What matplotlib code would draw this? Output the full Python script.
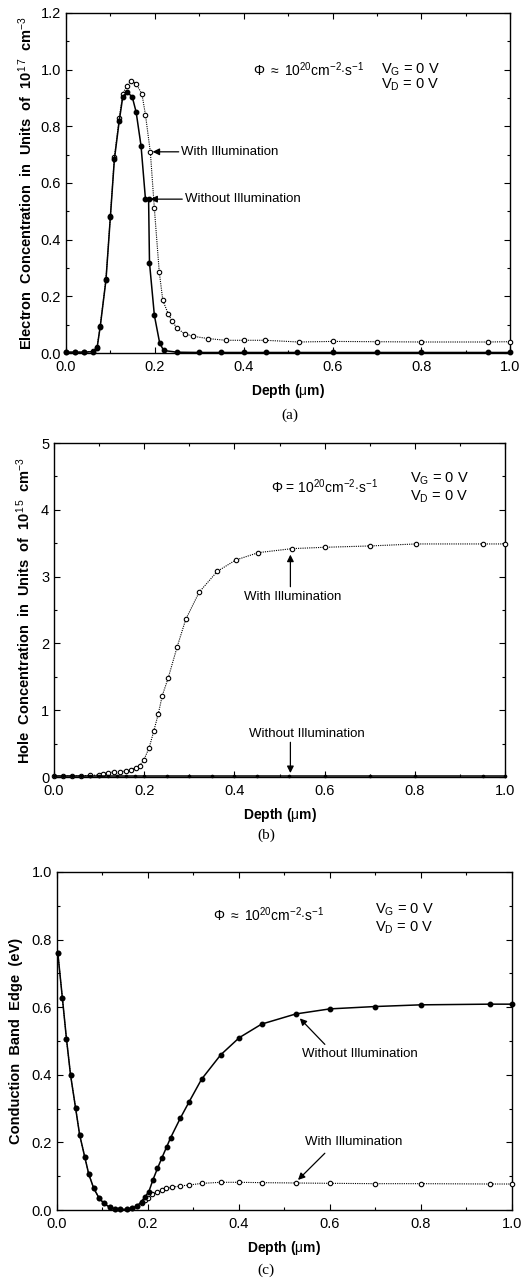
import matplotlib.pyplot as plt
from matplotlib.ticker import MultipleLocator

plt.rcParams['font.family'] = ['Liberation Sans', 'DejaVu Sans']
plt.rcParams['mathtext.fontset'] = 'custom'
plt.rcParams['mathtext.rm'] = 'Liberation Sans'
plt.rcParams['mathtext.it'] = 'Liberation Sans'
plt.rcParams['mathtext.bf'] = 'Liberation Sans:bold'

# (a) electron concentration, units of 1e17 cm^-3
ea_dark_x = [0.0, 0.02, 0.04, 0.06, 0.070, 0.077, 0.090, 0.100, 0.109, 0.120, 0.128, 0.137,
             0.149, 0.158, 0.169, 0.179, 0.186, 0.188, 0.199, 0.211, 0.220, 0.25, 0.30,
             0.35, 0.40, 0.45, 0.52, 0.60, 0.70, 0.80, 0.95, 1.0]
ea_dark_y = [0.003, 0.003, 0.003, 0.005, 0.018, 0.092, 0.257, 0.481, 0.684, 0.82, 0.905, 0.92,
             0.905, 0.85, 0.731, 0.542, 0.543, 0.319, 0.133, 0.035, 0.009, 0.003, 0.002,
             0.002, 0.002, 0.002, 0.002, 0.002, 0.002, 0.002, 0.002, 0.002]
ea_lit_x = [0.0, 0.02, 0.04, 0.06, 0.070, 0.077, 0.090, 0.100, 0.109, 0.120, 0.128, 0.137,
            0.147, 0.158, 0.171, 0.179, 0.190, 0.199, 0.210, 0.218, 0.230, 0.239, 0.250,
            0.267, 0.287, 0.320, 0.360, 0.400, 0.449, 0.524, 0.600, 0.700, 0.800, 0.950, 1.0]
ea_lit_y = [0.004, 0.004, 0.004, 0.006, 0.02, 0.095, 0.26, 0.485, 0.69, 0.83, 0.915, 0.943,
            0.961, 0.95, 0.914, 0.84, 0.708, 0.51, 0.286, 0.186, 0.139, 0.112, 0.088,
            0.068, 0.059, 0.051, 0.045, 0.045, 0.045, 0.039, 0.041, 0.040, 0.039, 0.039, 0.040]

# (b) hole concentration, units of 1e15 cm^-3
hb_lit_x = [0.0, 0.02, 0.04, 0.06, 0.08, 0.10, 0.109, 0.12, 0.133, 0.146, 0.159, 0.170,
            0.181, 0.190, 0.199, 0.211, 0.221, 0.231, 0.240, 0.253, 0.273, 0.292, 0.322,
            0.362, 0.403, 0.453, 0.528, 0.600, 0.700, 0.802, 0.952, 1.0]
hb_lit_y = [0.02, 0.02, 0.02, 0.02, 0.025, 0.03, 0.05, 0.066, 0.076, 0.081, 0.091, 0.11,
            0.137, 0.17, 0.254, 0.44, 0.685, 0.94, 1.22, 1.48, 1.95, 2.36, 2.77,
            3.08, 3.25, 3.36, 3.42, 3.44, 3.46, 3.49, 3.49, 3.49]
hb_dark_x = [0.0, 0.02, 0.04, 0.06, 0.08, 0.10, 0.12, 0.14, 0.16, 0.18, 0.20, 0.25, 0.30,
             0.35, 0.40, 0.45, 0.52, 0.60, 0.70, 0.80, 0.95, 1.0]
hb_dark_y = [0.02, 0.02, 0.02, 0.02, 0.02, 0.02, 0.02, 0.02, 0.02, 0.02, 0.02, 0.02, 0.02,
             0.02, 0.02, 0.02, 0.02, 0.02, 0.02, 0.02, 0.02, 0.02]

# (c) conduction band edge, eV
cc_dark_x = [0.002, 0.012, 0.021, 0.030, 0.041, 0.050, 0.061, 0.070, 0.081, 0.092, 0.103,
             0.116, 0.127, 0.138, 0.153, 0.166, 0.177, 0.186, 0.194, 0.202, 0.211, 0.221,
             0.231, 0.241, 0.250, 0.271, 0.291, 0.318, 0.360, 0.401, 0.450, 0.525, 0.600,
             0.700, 0.800, 0.952, 1.0]
cc_dark_y = [0.76, 0.627, 0.506, 0.399, 0.302, 0.222, 0.158, 0.106, 0.064, 0.037, 0.02,
             0.008, 0.003, 0.002, 0.002, 0.005, 0.013, 0.025, 0.040, 0.054, 0.089, 0.123,
             0.155, 0.186, 0.214, 0.271, 0.321, 0.387, 0.459, 0.51, 0.55, 0.58, 0.595,
             0.602, 0.607, 0.609, 0.609]
cc_lit_x = [0.002, 0.012, 0.021, 0.030, 0.041, 0.050, 0.061, 0.070, 0.081, 0.092, 0.103,
            0.116, 0.127, 0.138, 0.153, 0.166, 0.177, 0.186, 0.194, 0.200, 0.210, 0.220,
            0.230, 0.240, 0.252, 0.270, 0.290, 0.320, 0.360, 0.400, 0.450, 0.525, 0.600,
            0.700, 0.800, 0.952, 1.0]
cc_lit_y = [0.76, 0.627, 0.506, 0.399, 0.302, 0.222, 0.158, 0.106, 0.064, 0.037, 0.02,
            0.008, 0.003, 0.002, 0.002, 0.005, 0.012, 0.022, 0.030, 0.037, 0.046, 0.054,
            0.059, 0.064, 0.067, 0.071, 0.074, 0.079, 0.082, 0.082, 0.081, 0.080, 0.079,
            0.078, 0.078, 0.077, 0.077]

x_ticks = [0.0, 0.2, 0.4, 0.6, 0.8, 1.0]

flux = r'$\Phi$ $\approx$ 10$^{20}$cm$^{-2}$$\cdot$s$^{-1}$'
bias_g = r'V$_{\rm G}$ = 0 V'
bias_d = r'V$_{\rm D}$ = 0 V'

fig = plt.figure(figsize=(5.32, 12.81), dpi=100)
ax1 = fig.add_axes([0.124, 0.7244, 0.835, 0.2655])
ax2 = fig.add_axes([0.1015, 0.3934, 0.848, 0.2607])
ax3 = fig.add_axes([0.107, 0.0554, 0.855, 0.2639])


def dark(ax, x, y, ms=3.2):
    ax.plot(x, y, color='black', lw=1.1, marker='o', ms=ms, mfc='black',
            mec='black', zorder=5, clip_on=False)


def lit(ax, x, y):
    ax.plot(x, y, color='black', lw=0.8, ls=(0, (1, 1)), marker='o', ms=3.2,
            mfc='white', mec='black', mew=0.8, zorder=4, clip_on=False)


def style(ax, ymax, ymajor, yminor, fmt):
    ax.set_xlim(0, 1.0)
    ax.set_ylim(0, ymax)
    ax.set_xticks(x_ticks)
    ax.set_xticklabels(['%.1f' % v for v in x_ticks])
    ax.xaxis.set_minor_locator(MultipleLocator(0.1))
    ax.yaxis.set_major_locator(MultipleLocator(ymajor))
    ax.yaxis.set_minor_locator(MultipleLocator(yminor))
    ax.yaxis.set_major_formatter(plt.FormatStrFormatter(fmt))
    ax.tick_params(which='both', direction='in', top=True, right=True,
                   labelsize=10.5, width=0.8)
    ax.tick_params(axis='x', pad=5)
    ax.tick_params(which='major', length=4)
    ax.tick_params(which='minor', length=2.5)
    for s in ax.spines.values():
        s.set_linewidth(1.0)
    ax.set_xlabel(r'Depth ($\mu$m)', fontsize=10, fontweight='bold', labelpad=6)


arrow = dict(arrowstyle='-|>', color='black', lw=0.9, mutation_scale=10,
             shrinkA=0, shrinkB=0)

# panel (a)
lit(ax1, ea_lit_x, ea_lit_y)
dark(ax1, ea_dark_x, ea_dark_y)
style(ax1, 1.2, 0.2, 0.1, '%.1f')
ax1.set_ylabel(r'Electron  Concentration  in  Units  of  10$^{1\,7}$  cm$^{-3}$',
               fontsize=10.5, fontweight='bold', labelpad=4)
ax1.text(0.42, 1.0, flux, fontsize=10, va='center')
ax1.text(0.71, 1.0, bias_g, fontsize=10.5, va='center')
ax1.text(0.71, 0.945, bias_d, fontsize=10.5, va='center')
ax1.annotate('With Illumination', xy=(0.195, 0.71), xytext=(0.26, 0.71),
             fontsize=9.5, va='center', arrowprops=arrow)
ax1.annotate('Without Illumination', xy=(0.19, 0.543), xytext=(0.268, 0.543),
             fontsize=9.5, va='center', arrowprops=arrow)
fig.text(0.545, 1 - 415 / 1281, '(a)', fontsize=11, ha='center', va='center',
         family='Liberation Serif')

# panel (b)
lit(ax2, hb_lit_x, hb_lit_y)
dark(ax2, hb_dark_x, hb_dark_y, ms=1.6)
style(ax2, 5, 1, 0.5, '%d')
ax2.set_ylabel(r'Hole  Concentration  in  Units  of  10$^{1\,5}$  cm$^{-3}$',
               fontsize=10.5, fontweight='bold', labelpad=6)
ax2.text(0.48, 4.34, flux.replace(r'$\approx$', '='), fontsize=10, va='center')
ax2.text(0.79, 4.47, bias_g, fontsize=10.5, va='center')
ax2.text(0.79, 4.19, bias_d, fontsize=10.5, va='center')
ax2.annotate('', xy=(0.524, 3.33), xytext=(0.524, 2.85), arrowprops=arrow)
ax2.text(0.53, 2.69, 'With Illumination', fontsize=9.5, ha='center', va='center')
ax2.annotate('', xy=(0.524, 0.06), xytext=(0.524, 0.52), arrowprops=arrow)
ax2.text(0.56, 0.64, 'Without Illumination', fontsize=9.5, ha='center', va='center')
fig.text(0.5, 1 - 835 / 1281, '(b)', fontsize=11, ha='center', va='center',
         family='Liberation Serif')

# panel (c)
lit(ax3, cc_lit_x, cc_lit_y)
dark(ax3, cc_dark_x, cc_dark_y)
style(ax3, 1.0, 0.2, 0.1, '%.1f')
ax3.set_ylabel('Conduction  Band  Edge  (eV)', fontsize=10.5, fontweight='bold',
               labelpad=6)
ax3.text(0.343, 0.874, flux, fontsize=10, va='center')
ax3.text(0.70, 0.888, bias_g, fontsize=10.5, va='center')
ax3.text(0.70, 0.834, bias_d, fontsize=10.5, va='center')
ax3.annotate('', xy=(0.534, 0.567), xytext=(0.589, 0.49), arrowprops=arrow)
ax3.text(0.538, 0.461, 'Without Illumination', fontsize=9.5, va='center')
ax3.annotate('', xy=(0.53, 0.089), xytext=(0.589, 0.168), arrowprops=arrow)
ax3.text(0.545, 0.202, 'With Illumination', fontsize=9.5, va='center')
fig.text(0.5, 1 - 1270 / 1281, '(c)', fontsize=11, ha='center', va='center',
         family='Liberation Serif')

fig.savefig('out.png', dpi=100)
